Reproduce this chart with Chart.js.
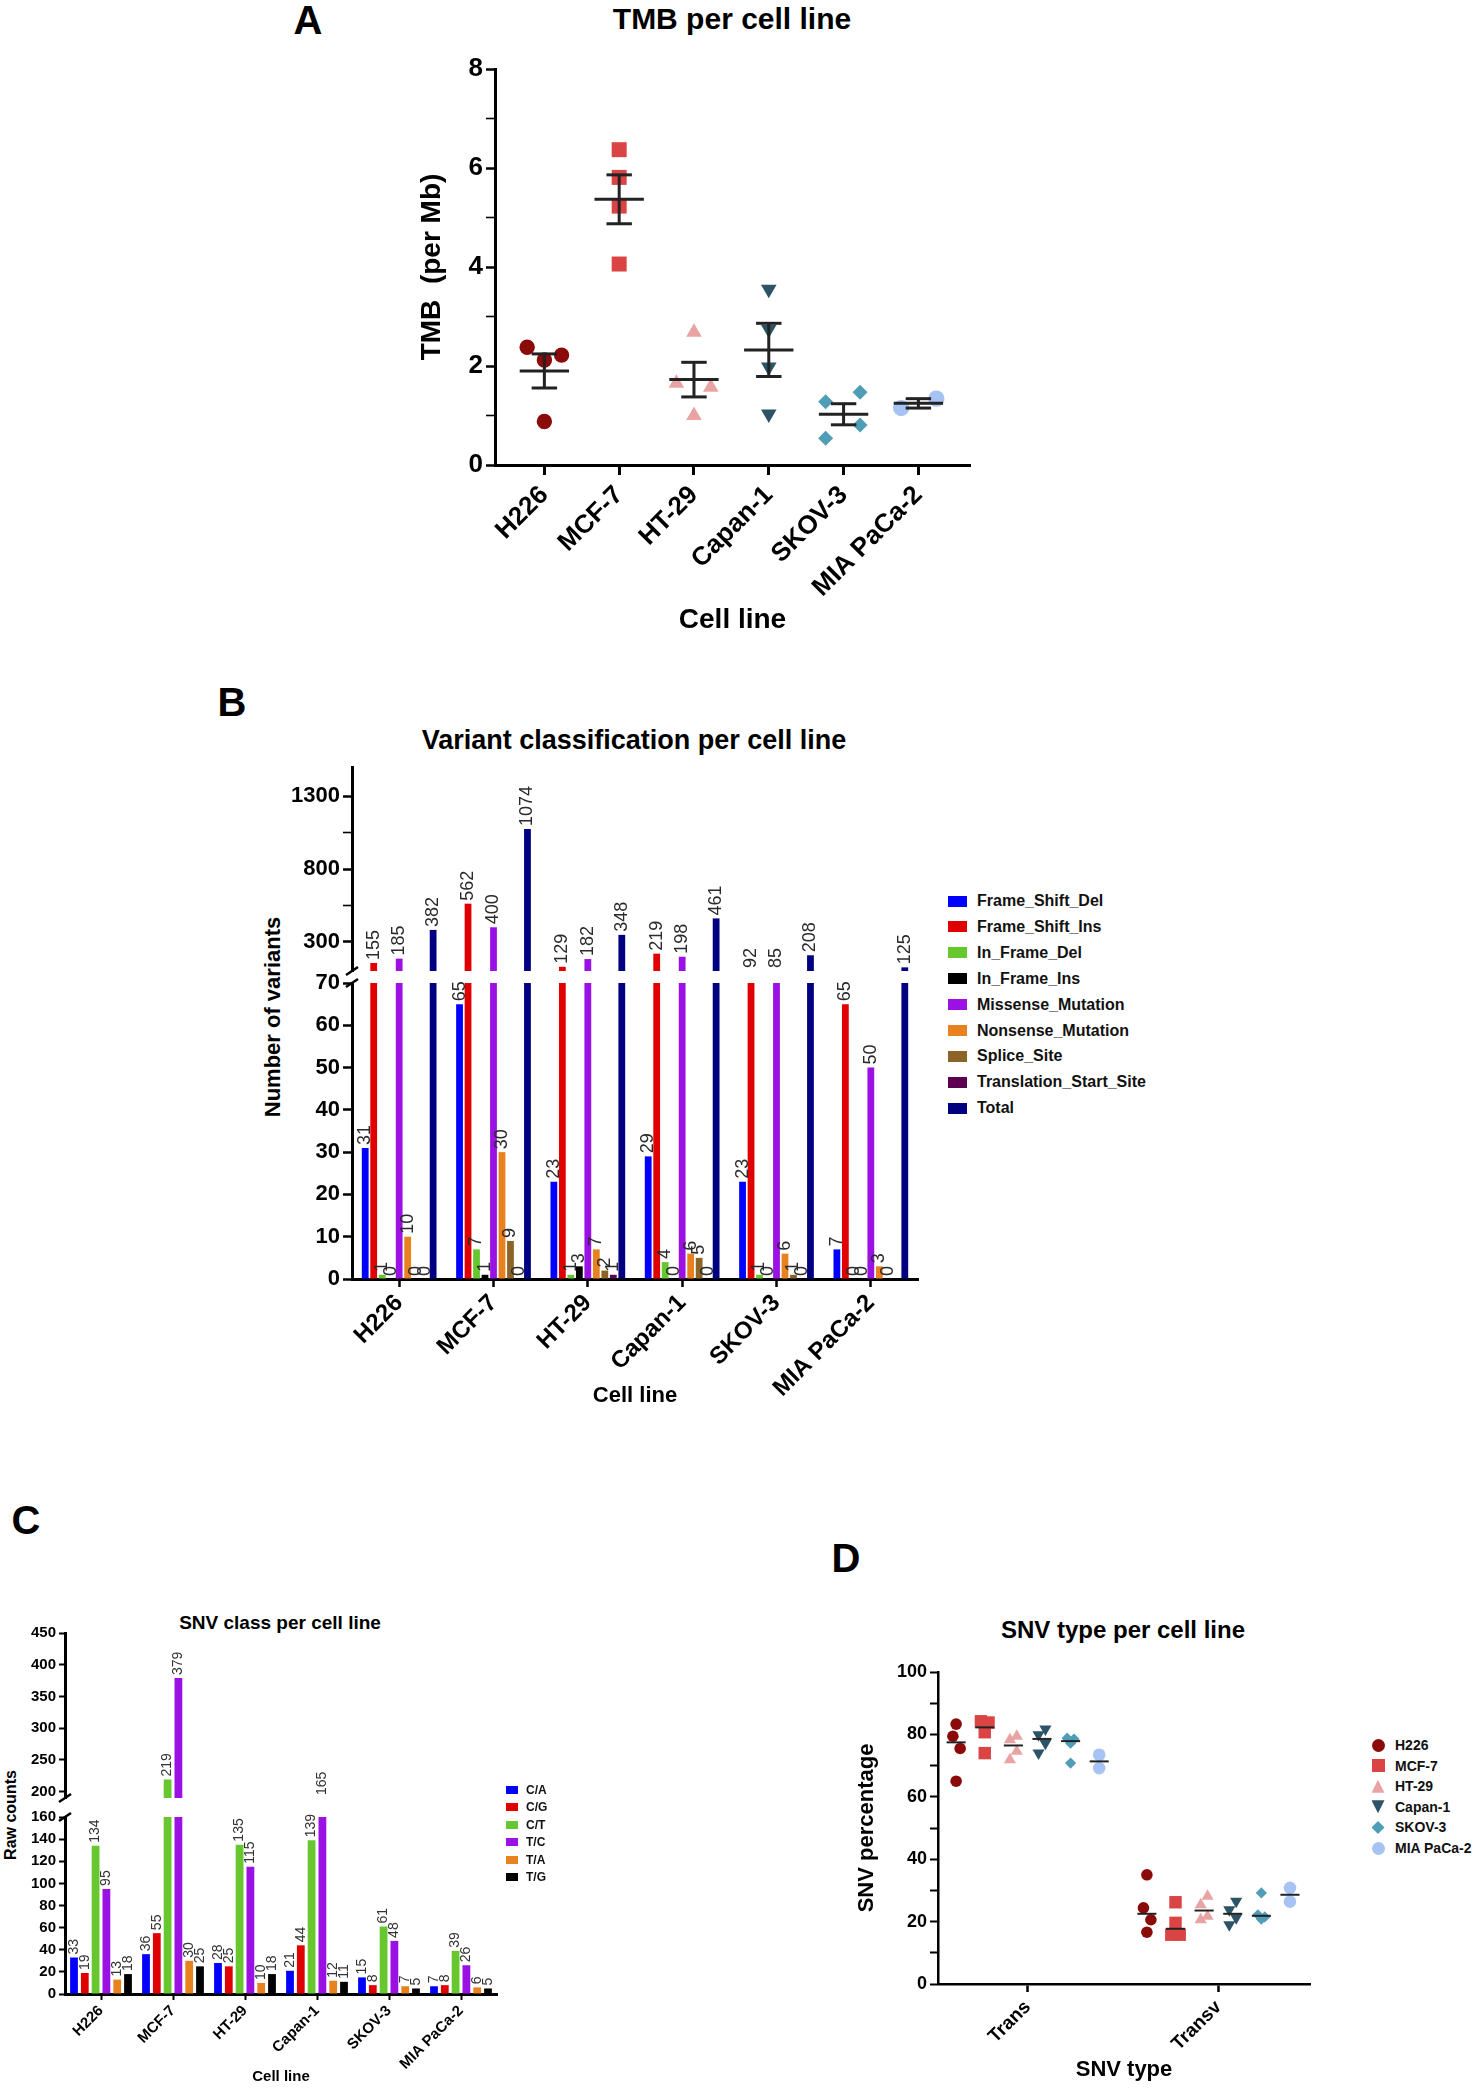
<!DOCTYPE html>
<html>
<head>
<meta charset="utf-8">
<title>TMB, variant classes and SNV per cell line</title>
<script src="https://cdn.jsdelivr.net/npm/chart.js@4.4.1/dist/chart.umd.min.js"></script>
<style>
  html, body { margin: 0; padding: 0; background: #fff; }
  #page { position: relative; width: 1476px; height: 2088px; overflow: hidden; background: #fff; }
  #page canvas { position: absolute; }
</style>
</head>
<body>
<div id="page"></div>
<script>
const FONT = '"Liberation Sans", Arial, Helvetica, sans-serif';

// cell lines, shared by all panels
const cellLines = ['H226', 'MCF-7', 'HT-29', 'Capan-1', 'SKOV-3', 'MIA PaCa-2'];
const cellColors = ['#8b0a0a', '#db4444', '#eaa3a3', '#2c5366', '#4f9db6', '#a6c3f3'];
const cellShapes = ['circle', 'rect', 'triangle', 'triangle', 'rectRot', 'circle'];
const cellRotation = [0, 0, 0, 180, 0, 0];

// A - TMB (per Mb), replicates per cell line
const tmbValues = [
  [2.38, 2.12, 2.22, 0.88],
  [6.37, 5.81, 5.23, 4.06],
  [2.68, 1.65, 1.57, 1.00],
  [3.55, 2.74, 1.98, 1.03],
  [1.28, 1.47, 0.54, 0.81],
  [1.15, 1.34]
];
const tmbJitter = [
  [-0.23, 0, 0.23, 0],
  [0, 0, 0, 0],
  [0, -0.235, 0.225, 0],
  [0, 0, 0, 0],
  [-0.24, 0.22, -0.24, 0.22],
  [-0.23, 0.24]
];
const tmbTicks = [0, 2, 4, 6, 8];

// B - variant classification
const variantClasses = ['Frame_Shift_Del', 'Frame_Shift_Ins', 'In_Frame_Del', 'In_Frame_Ins',
  'Missense_Mutation', 'Nonsense_Mutation', 'Splice_Site', 'Translation_Start_Site', 'Total'];
const variantColors = ['#0000ff', '#e00000', '#66c82e', '#000000', '#9b10e3', '#e8821e', '#8c6428', '#5c0050', '#000080'];
const frameShiftDel = [31, 65, 23, 29, 23, 7];
const frameShiftIns = [155, 562, 129, 219, 92, 65];
const inFrameDel = [1, 7, 1, 4, 1, 0];
const inFrameIns = [0, 1, 3, 0, 0, 0];
const missenseMut = [185, 400, 182, 198, 85, 50];
const nonsenseMut = [10, 30, 7, 6, 6, 3];
const spliceSite = [0, 9, 2, 5, 1, 0];
const translationStart = [0, 0, 1, 0, 0, null];
const totalVariants = [382, 1074, 348, 461, 208, 125];
const variantTicksHigh = [300, 800, 1300];
const variantTicksLow = [0, 10, 20, 30, 40, 50, 60, 70];

// C - SNV class raw counts
const snvClasses = ['C/A', 'C/G', 'C/T', 'T/C', 'T/A', 'T/G'];
const snvColors = ['#0000ff', '#e00000', '#66c82e', '#9b10e3', '#e8821e', '#000000'];
const snvCA = [33, 36, 28, 21, 15, 7];
const snvCG = [19, 55, 25, 44, 8, 8];
const snvCT = [134, 219, 135, 139, 61, 39];
const snvTC = [95, 379, 115, 165, 48, 26];
const snvTA = [13, 30, 10, 12, 7, 6];
const snvTG = [18, 25, 18, 11, 5, 5];
const snvTicksHigh = [200, 250, 300, 350, 400, 450];
const snvTicksLow = [0, 20, 40, 60, 80, 100, 120, 140, 160];

// D - SNV type percentage
const snvTypes = ['Trans', 'Transv'];
const transPct = [
  [83.3, 79.4, 75.5, 65.0],
  [84.2, 83.8, 80.7, 74.0],
  [79.4, 78.3, 74.6, 71.9],
  [81.7, 79.9, 77.2, 74.0],
  [78.8, 78.5, 77.2, 70.8],
  [73.5, 69.2]
];
const transvPct = [
  [35.0, 24.4, 20.6, 16.6],
  [26.2, 19.6, 15.8, 15.8],
  [28.1, 25.4, 21.7, 20.6],
  [26.5, 23.8, 21.2, 19.0],
  [29.2, 22.2, 21.5, 20.8],
  [30.8, 26.4]
];
const transJitter = [
  [0, -0.017, 0.021, 0],
  [-0.02, 0.02, 0, 0],
  [0.018, -0.018, 0.018, -0.018],
  [0.018, -0.018, 0.018, -0.018],
  [-0.018, 0.018, 0, 0],
  [0, 0]
];
const transvJitter = [
  [0, -0.018, 0.021, 0],
  [0, 0, -0.022, 0.022],
  [0.018, -0.018, 0.018, -0.018],
  [0.018, -0.018, 0.018, -0.018],
  [0, -0.018, 0.018, 0],
  [0, 0]
];
const clusterOffset = [-0.375, -0.225, -0.075, 0.075, 0.225, 0.375];
const snvPctTicks = [0, 20, 40, 60, 80, 100];

Chart.defaults.font.family = FONT;
Chart.defaults.color = '#000';
Chart.defaults.plugins.legend.display = false;
Chart.defaults.plugins.tooltip.enabled = false;

const page = document.getElementById('page');

function text(str, x, y, size, rot) {
  const d = document.createElement('div');
  d.textContent = str;
  d.style.cssText = 'position:absolute;left:' + x + 'px;top:' + y + 'px;white-space:nowrap;line-height:1;' +
    'font:bold ' + size + 'px ' + FONT + ';color:#000;transform:translate(-50%,-50%) rotate(' + (rot || 0) + 'deg);';
  page.appendChild(d);
}

const shapeCss = {
  circle: 'border-radius:50%;',
  rect: '',
  triangle: 'clip-path:polygon(50% 0,100% 100%,0 100%);',
  down: 'clip-path:polygon(0 0,100% 0,50% 100%);',
  rectRot: 'clip-path:polygon(50% 0,100% 50%,50% 100%,0 50%);'
};

function legend(names, colors, o) {
  names.forEach((n, i) => {
    const y = o.y0 + i * o.gap;
    const w = o.boxW, h = o.boxH;
    const sw = document.createElement('div');
    sw.style.cssText = 'position:absolute;left:' + (o.boxX - w / 2) + 'px;top:' + (y - h / 2) + 'px;width:' + w +
      'px;height:' + h + 'px;background:' + colors[i] + ';' + (o.shapes ? shapeCss[o.shapes[i]] : '');
    page.appendChild(sw);
    const t = document.createElement('div');
    t.textContent = n;
    t.style.cssText = 'position:absolute;left:' + o.textX + 'px;top:' + y + 'px;transform:translateY(-50%);' +
      'white-space:nowrap;line-height:1;font:bold ' + o.size + 'px ' + FONT + ';color:#111;';
    page.appendChild(t);
  });
}

function makeChart(left, top, w, h, config) {
  const c = document.createElement('canvas');
  c.width = w; c.height = h;
  c.style.left = left + 'px'; c.style.top = top + 'px';
  c.style.width = w + 'px'; c.style.height = h + 'px';
  page.appendChild(c);
  config.options = Object.assign({responsive: false, animation: false, devicePixelRatio: 1}, config.options);
  return new Chart(c.getContext('2d'), config);
}

// majors plus the half-way minor ticks
function withMinor(majors) {
  const out = [];
  majors.forEach((v, i) => {
    out.push(v);
    if (i < majors.length - 1) out.push((v + majors[i + 1]) / 2);
  });
  return out;
}

function yAxis(min, max, majors, width, size, extra) {
  const all = withMinor(majors);
  return Object.assign({
    min: min, max: max,
    border: {display: true, color: '#000', width: 3},
    grid: {drawOnChartArea: false, color: '#000', tickLength: 9,
      tickWidth: ctx => (ctx.tick && majors.includes(ctx.tick.value)) ? 2.5 : 1.6},
    ticks: {color: '#000', padding: 3, font: {size: size, weight: 'bold'},
      callback: v => majors.includes(v) ? String(v) : ''},
    afterBuildTicks: s => { s.ticks = all.map(v => ({value: v})); },
    afterFit: s => { s.width = width; }
  }, extra || {});
}

function catAxis(size, height, title) {
  return {
    type: 'category', offset: true,
    border: {color: '#000', width: 3},
    grid: {drawOnChartArea: false, offset: false, color: '#000', tickLength: 8, tickWidth: 2.5},
    ticks: {color: '#000', font: {size: size, weight: 'bold'}, minRotation: 45, maxRotation: 45, autoSkip: false, padding: 2},
    title: title,
    afterFit: s => { s.height = height; }
  };
}

function barSets(series, names, colors, catPct, barPct) {
  return series.map((d, k) => ({
    label: names[k], data: d, backgroundColor: colors[k], borderWidth: 0,
    categoryPercentage: catPct, barPercentage: barPct, clip: 0
  }));
}

// vertical value labels above bars
const valueLabels = {
  id: 'valueLabels',
  afterDatasetsDraw(chart, args, o) {
    const ctx = chart.ctx, ys = chart.scales.y;
    ctx.save();
    ctx.font = o.font;
    ctx.fillStyle = o.color;
    ctx.textAlign = 'left';
    ctx.textBaseline = 'middle';
    chart.data.datasets.forEach((ds, di) => {
      chart.getDatasetMeta(di).data.forEach((bar, i) => {
        const v = ds.data[i];
        if (v === null || v === undefined) return;
        if (o.part === 'low' && v > o.cut) return;
        if (o.part === 'high' && v <= o.cut) return;
        const y = ys.getPixelForValue(Math.max(v, ys.min));
        ctx.save();
        ctx.translate(bar.x, y - 3);
        ctx.rotate(-Math.PI / 2);
        ctx.fillText(String(v), 0, 0);
        ctx.restore();
      });
    });
    ctx.restore();
  }
};

// small slanted marks where the y axis is broken
const breakMarks = {
  id: 'breakMarks',
  afterDraw(chart, args, o) {
    const ctx = chart.ctx, a = chart.chartArea;
    const y = o.edge === 'top' ? a.top : a.bottom;
    ctx.save();
    ctx.strokeStyle = '#000';
    ctx.lineWidth = 2.5;
    ctx.beginPath();
    ctx.moveTo(a.left - 6, y + 4);
    ctx.lineTo(a.left + 6, y - 4);
    ctx.stroke();
    ctx.restore();
  }
};

// mean +/- SEM, or median, lines for dot plots
const centerLines = {
  id: 'centerLines',
  afterDatasetsDraw(chart, args, o) {
    const xs = chart.scales.x, ys = chart.scales.y, ctx = chart.ctx;
    const hline = (x, half, v) => {
      ctx.beginPath();
      ctx.moveTo(xs.getPixelForValue(x - half), ys.getPixelForValue(v));
      ctx.lineTo(xs.getPixelForValue(x + half), ys.getPixelForValue(v));
      ctx.stroke();
    };
    ctx.save();
    ctx.strokeStyle = '#222';
    ctx.lineWidth = o.width;
    o.groups.forEach(g => {
      const n = g.vals.length;
      if (o.kind === 'median') {
        const s = g.vals.slice().sort((a, b) => a - b);
        const med = n % 2 ? s[(n - 1) / 2] : (s[n / 2 - 1] + s[n / 2]) / 2;
        hline(g.x, o.half, med);
        return;
      }
      const m = g.vals.reduce((a, b) => a + b, 0) / n;
      const sd = Math.sqrt(g.vals.reduce((a, b) => a + (b - m) * (b - m), 0) / (n - 1));
      const se = sd / Math.sqrt(n);
      hline(g.x, o.half, m);
      hline(g.x, o.cap, m + se);
      hline(g.x, o.cap, m - se);
      ctx.beginPath();
      ctx.moveTo(xs.getPixelForValue(g.x), ys.getPixelForValue(m - se));
      ctx.lineTo(xs.getPixelForValue(g.x), ys.getPixelForValue(m + se));
      ctx.stroke();
    });
    ctx.restore();
  }
};

// ---------- text outside the plots ----------
text('A', 308, 20, 40);
text('TMB per cell line', 732, 19, 30);
text('B', 232, 702, 40);
text('Variant classification per cell line', 634, 740, 27);
text('Number of variants', 273, 1017, 22, -90);
text('C', 26, 1520, 40);
text('SNV class per cell line', 280, 1623, 19);
text('Raw counts', 11, 1815, 16, -90);
text('D', 846, 1558, 40);
text('SNV type per cell line', 1123, 1630, 24);

// ---------- A ----------
makeChart(300, 0, 700, 660, {
  type: 'scatter',
  data: {
    datasets: cellLines.map((c, i) => ({
      label: c,
      data: tmbValues[i].map((v, j) => ({x: i + tmbJitter[i][j], y: v})),
      pointStyle: cellShapes[i], pointRotation: cellRotation[i],
      pointRadius: [7.7, 10.6, 9, 9, 7.5, 8.2][i],
      backgroundColor: cellColors[i], borderWidth: 0
    }))
  },
  options: {
    layout: {padding: {top: 69, right: 30, left: 0, bottom: 0}},
    scales: {
      x: {
        type: 'linear', min: -0.66, max: 5.69,
        border: {color: '#000', width: 3},
        grid: {drawOnChartArea: false, color: '#000', tickLength: 10, tickWidth: 3},
        ticks: {color: '#000', font: {size: 26, weight: 'bold'}, minRotation: 45, maxRotation: 45,
          autoSkip: false, padding: 5, callback: v => cellLines[v]},
        afterBuildTicks: s => { s.ticks = cellLines.map((c, i) => ({value: i})); },
        title: {display: true, text: 'Cell line', color: '#000', font: {size: 28, weight: 'bold'}, padding: {top: 0, bottom: 23}},
        afterFit: s => { s.height = 195; }
      },
      y: yAxis(0, 8, tmbTicks, 195, 26, {
        title: {display: true, text: 'TMB  (per Mb)', color: '#000', font: {size: 28, weight: 'bold'}, padding: {top: 115, bottom: 0}}
      })
    },
    plugins: {centerLines: {kind: 'mean', width: 3, half: 0.33, cap: 0.17,
      groups: tmbValues.map((vals, i) => ({x: i, vals: vals}))}}
  },
  plugins: [centerLines]
});

// ---------- B (broken axis: two stacked plots) ----------
const variantSeries = [frameShiftDel, frameShiftIns, inFrameDel, inFrameIns, missenseMut,
  nonsenseMut, spliceSite, translationStart, totalVariants];

makeChart(200, 700, 740, 290, {
  type: 'bar',
  data: {labels: cellLines, datasets: barSets(variantSeries, variantClasses, variantColors, 0.81, 0.8)},
  options: {
    layout: {padding: {top: 67, right: 22, left: 0, bottom: 19}},
    scales: {
      x: {type: 'category', offset: true, display: false},
      y: yAxis(100, 1500, variantTicksHigh, 152, 22)
    },
    plugins: {
      valueLabels: {part: 'high', cut: 70, font: '18px ' + FONT, color: '#2a2a2a'},
      breakMarks: {edge: 'bottom'}
    }
  },
  plugins: [valueLabels, breakMarks]
});

makeChart(200, 960, 740, 470, {
  type: 'bar',
  data: {labels: cellLines, datasets: barSets(variantSeries, variantClasses, variantColors, 0.81, 0.8)},
  options: {
    layout: {padding: {top: 23, right: 22, left: 0, bottom: 0}},
    scales: {
      x: catAxis(24, 151, {display: true, text: 'Cell line', color: '#000', font: {size: 22, weight: 'bold'}, padding: {top: 0, bottom: 21}}),
      y: yAxis(0, 70, variantTicksLow, 152, 22)
    },
    plugins: {
      valueLabels: {part: 'low', cut: 70, font: '18px ' + FONT, color: '#2a2a2a'},
      breakMarks: {edge: 'top'}
    }
  },
  plugins: [valueLabels, breakMarks]
});

legend(variantClasses, variantColors, {boxX: 957, boxW: 19, boxH: 11, textX: 977, y0: 901, gap: 25.9, size: 16});

// ---------- C (broken axis) ----------
const snvSeries = [snvCA, snvCG, snvCT, snvTC, snvTA, snvTG];

makeChart(0, 1600, 520, 210, {
  type: 'bar',
  data: {labels: cellLines, datasets: barSets(snvSeries, snvClasses, snvColors, 0.9, 0.72)},
  options: {
    layout: {padding: {top: 33, right: 23, left: 0, bottom: 10}},
    scales: {
      x: {type: 'category', offset: true, display: false},
      y: yAxis(190, 450, snvTicksHigh, 65, 15, {grid: {drawOnChartArea: false, color: '#000', tickLength: 6, tickWidth: 2}})
    },
    plugins: {
      valueLabels: {part: 'high', cut: 160, font: '14px ' + FONT, color: '#333'},
      breakMarks: {edge: 'bottom'}
    }
  },
  plugins: [valueLabels, breakMarks]
});

makeChart(0, 1805, 520, 283, {
  type: 'bar',
  data: {labels: cellLines, datasets: barSets(snvSeries, snvClasses, snvColors, 0.9, 0.72)},
  options: {
    layout: {padding: {top: 12, right: 23, left: 0, bottom: 0}},
    scales: {
      x: Object.assign(catAxis(15, 94, {display: true, text: 'Cell line', color: '#000', font: {size: 15, weight: 'bold'}, padding: {top: 0, bottom: 2}}),
        {grid: {drawOnChartArea: false, offset: false, color: '#000', tickLength: 6, tickWidth: 2}}),
      y: yAxis(0, 160, snvTicksLow, 65, 15, {grid: {drawOnChartArea: false, color: '#000', tickLength: 6, tickWidth: 2}})
    },
    plugins: {
      valueLabels: {part: 'low', cut: 160, font: '14px ' + FONT, color: '#333'},
      breakMarks: {edge: 'top'}
    }
  },
  plugins: [valueLabels, breakMarks]
});

legend(snvClasses, snvColors, {boxX: 512, boxW: 12, boxH: 8, textX: 526, y0: 1790, gap: 17.4, size: 12});

// ---------- D ----------
makeChart(820, 1640, 510, 448, {
  type: 'scatter',
  data: {
    datasets: cellLines.map((c, i) => ({
      label: c,
      data: transPct[i].map((v, j) => ({x: clusterOffset[i] + transJitter[i][j], y: v}))
        .concat(transvPct[i].map((v, j) => ({x: 1 + clusterOffset[i] + transvJitter[i][j], y: v}))),
      pointStyle: cellShapes[i], pointRotation: cellRotation[i],
      pointRadius: [5.8, 8.8, 7, 7, 5.6, 6.3][i],
      backgroundColor: cellColors[i], borderWidth: 0
    }))
  },
  options: {
    layout: {padding: {top: 32, right: 20, left: 0, bottom: 0}},
    scales: {
      x: {
        type: 'linear', min: -0.47, max: 1.48,
        border: {color: '#000', width: 2.5},
        grid: {drawOnChartArea: false, color: '#000', tickLength: 8, tickWidth: 2.5},
        ticks: {color: '#000', font: {size: 19, weight: 'bold'}, minRotation: 45, maxRotation: 45,
          autoSkip: false, padding: 4, callback: v => snvTypes[v]},
        afterBuildTicks: s => { s.ticks = snvTypes.map((t, i) => ({value: i})); },
        title: {display: true, text: 'SNV type', color: '#000', font: {size: 22, weight: 'bold'}, padding: {top: 0, bottom: 5}},
        afterFit: s => { s.height = 104; }
      },
      y: yAxis(0, 100, snvPctTicks, 118, 18, {
        border: {display: true, color: '#000', width: 2.5},
        grid: {drawOnChartArea: false, color: '#000', tickLength: 8, tickWidth: 2},
        title: {display: true, text: 'SNV percentage', color: '#000', font: {size: 22, weight: 'bold'}, padding: {top: 34, bottom: 0}}
      })
    },
    plugins: {centerLines: {kind: 'median', width: 2, half: 0.05,
      groups: cellLines.map((c, i) => ({x: clusterOffset[i], vals: transPct[i]}))
        .concat(cellLines.map((c, i) => ({x: 1 + clusterOffset[i], vals: transvPct[i]})))}}
  },
  plugins: [centerLines]
});

legend(cellLines, cellColors, {boxX: 1378, boxW: 13, boxH: 13, textX: 1395, y0: 1745, gap: 20.6, size: 14,
  shapes: ['circle', 'rect', 'triangle', 'down', 'rectRot', 'circle']});
</script>
</body>
</html>
